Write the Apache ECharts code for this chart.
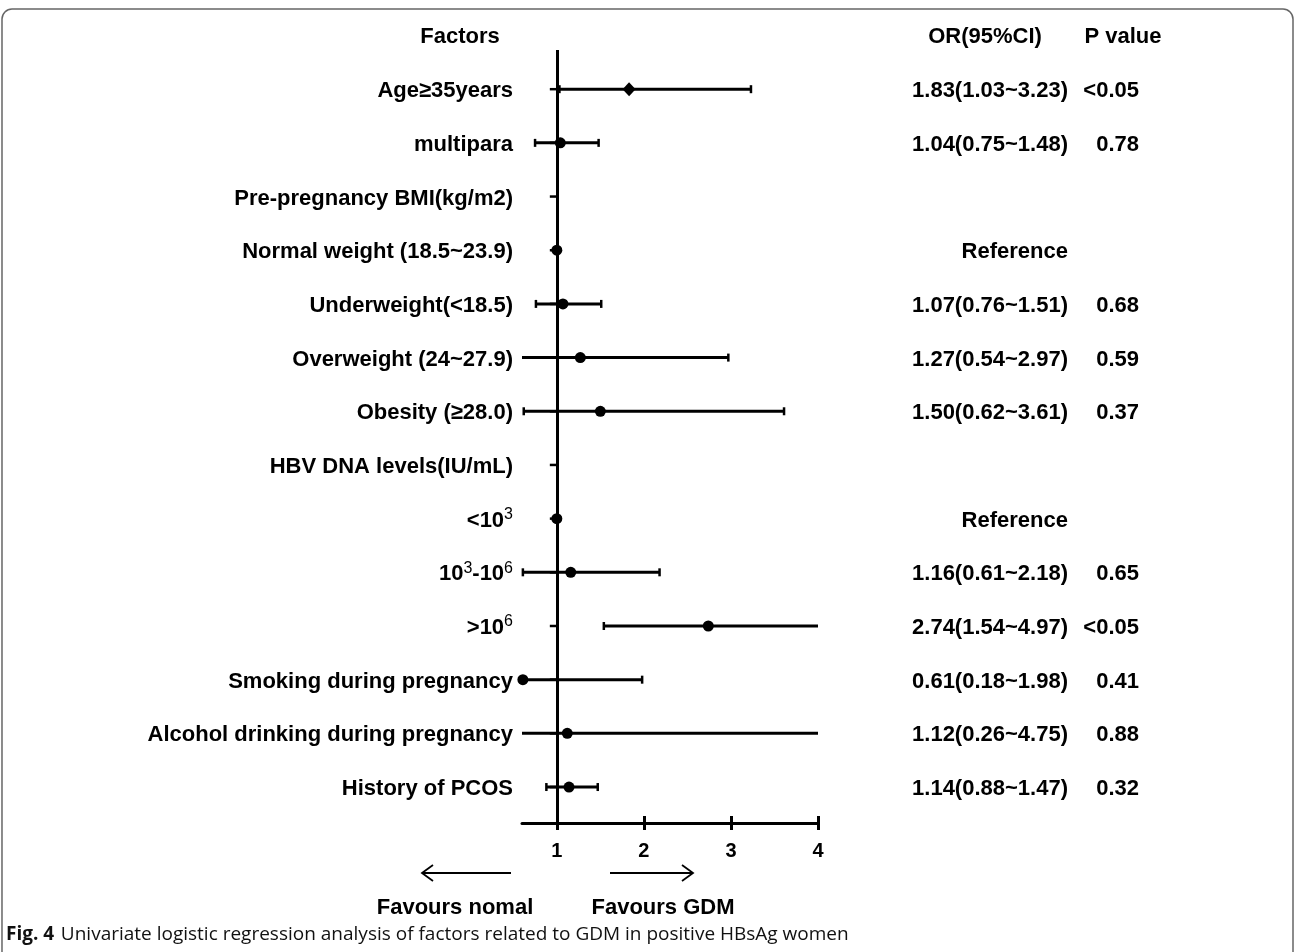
<!DOCTYPE html>
<html>
<head>
<meta charset="utf-8">
<title>Forest plot</title>
<script src="https://cdn.jsdelivr.net/npm/echarts@6/dist/echarts.min.js"></script>
<style>
  html, body { margin: 0; padding: 0; background: #fff; }
  #chart { width: 1295px; height: 952px; }
</style>
</head>
<body>
<div id="chart"></div>
<script>
// row labels ({s|..} = superscript)
const factors = [
  'Age≥35years',
  'multipara',
  'Pre-pregnancy BMI(kg/m2)',
  'Normal weight (18.5~23.9)',
  'Underweight(<18.5)',
  'Overweight (24~27.9)',
  'Obesity (≥28.0)',
  'HBV DNA levels(IU/mL)',
  '<10{s|3}',
  '10{s|3}-10{s|6}',
  '>10{s|6}',
  'Smoking during pregnancy',
  'Alcohol drinking during pregnancy',
  'History of PCOS'
]
// odds ratio and 95% CI (null = no estimate)
const oddsRatio = [1.83, 1.04, null, 1, 1.07, 1.27, 1.50, null, 1, 1.16, 2.74, 0.61, 1.12, 1.14]
const ciLower = [1.03, 0.75, null, null, 0.76, 0.54, 0.62, null, null, 0.61, 1.54, 0.18, 0.26, 0.88]
const ciUpper = [3.23, 1.48, null, null, 1.51, 2.97, 3.61, null, null, 2.18, 4.97, 1.98, 4.75, 1.47]
const pValues = ['<0.05', '0.78', '', '', '0.68', '0.59', '0.37', '', '', '0.65', '<0.05', '0.41', '0.88', '0.32']
const xTicks = [1, 2, 3, 4]
const diamondRows = ['Age≥35years']

const X_MIN = 0.6
const X_MAX = 4
const FONT = '"Liberation Sans", Arial, Helvetica, sans-serif'
const bold = size => 'bold ' + size + 'px ' + FONT

function orLabel (i) {
  if (oddsRatio[i] == null) return ''
  if (ciLower[i] == null) return 'Reference'
  return oddsRatio[i].toFixed(2) + '(' + ciLower[i].toFixed(2) + '~' + ciUpper[i].toFixed(2) + ')'
}

const richLabel = {
  n: { fontFamily: FONT, fontWeight: 'bold', fontSize: 22, lineHeight: 28, fill: '#000' },
  s: { fontFamily: FONT, fontWeight: 'normal', fontSize: 16, lineHeight: 28, verticalAlign: 'top', fill: '#000' }
}

function renderRow (params, api) {
  const i = params.dataIndex
  const row = i + 1
  const base = api.coord([1, row])
  const y = base[1]
  const kids = []
  // tick on the OR = 1 line
  kids.push({ type: 'line', shape: { x1: base[0] - 7, y1: y, x2: base[0], y2: y }, style: { stroke: '#000', lineWidth: 2.5 } })
  if (ciLower[i] != null) {
    const xl = api.coord([Math.max(ciLower[i], X_MIN), row])[0]
    const xh = api.coord([Math.min(ciUpper[i], X_MAX), row])[0]
    kids.push({ type: 'line', shape: { x1: xl, y1: y, x2: xh, y2: y }, style: { stroke: '#000', lineWidth: 3 } })
    if (ciLower[i] >= X_MIN) {
      kids.push({ type: 'line', shape: { x1: xl, y1: y - 4, x2: xl, y2: y + 4 }, style: { stroke: '#000', lineWidth: 2.5 } })
    }
    if (ciUpper[i] <= X_MAX) {
      kids.push({ type: 'line', shape: { x1: xh, y1: y - 4, x2: xh, y2: y + 4 }, style: { stroke: '#000', lineWidth: 2.5 } })
    }
  }
  if (oddsRatio[i] != null) {
    const p = api.coord([oddsRatio[i], row])
    if (diamondRows.indexOf(factors[i]) >= 0) {
      kids.push({ type: 'polygon', shape: { points: [[p[0], y - 7], [p[0] + 6.5, y], [p[0], y + 7], [p[0] - 6.5, y]] }, style: { fill: '#000' } })
    } else {
      kids.push({ type: 'circle', shape: { cx: p[0], cy: y, r: 5.5 }, style: { fill: '#000' } })
    }
  }
  // factor name, OR text, p value
  const left = api.coord([X_MIN, row])[0]
  kids.push({
    type: 'text',
    style: {
      text: '{n|' + factors[i].replace(/\{s\|(\d)\}/g, '}{s|$1}{n|') + '}',
      rich: richLabel,
      x: left - 9, y: y + 2, align: 'right', verticalAlign: 'middle'
    }
  })
  kids.push({ type: 'text', style: { text: orLabel(i), x: 1068, y: y + 2, align: 'right', verticalAlign: 'middle', font: bold(22), fill: '#000' } })
  kids.push({ type: 'text', style: { text: pValues[i], x: 1139, y: y + 2, align: 'right', verticalAlign: 'middle', font: bold(22), fill: '#000' } })
  return { type: 'group', children: kids }
}

const chart = echarts.init(document.getElementById('chart'))
chart.setOption({
  animation: false,
  backgroundColor: '#fff',
  grid: { left: 522, right: 477, top: 50, bottom: 129 },
  xAxis: [
    {
      type: 'value', min: X_MIN, max: X_MAX, position: 'bottom',
      axisLine: { show: true, lineStyle: { color: '#000', width: 3 } },
      axisTick: { show: true, customValues: xTicks, length: 7, lineStyle: { color: '#000', width: 3 } },
      axisLabel: { customValues: xTicks, color: '#000', fontFamily: FONT, fontWeight: 'bold', fontSize: 20, margin: 18 },
      splitLine: { show: false }
    },
    {
      type: 'value', min: X_MIN, max: X_MAX, position: 'bottom',
      axisLine: { show: false },
      axisTick: { show: true, inside: true, customValues: xTicks, length: 7, lineStyle: { color: '#000', width: 3 } },
      axisLabel: { show: false },
      splitLine: { show: false }
    }
  ],
  yAxis: { type: 'value', inverse: true, min: 0.27, max: 14.67, show: false },
  series: [{
    type: 'custom',
    renderItem: renderRow,
    data: factors.map((f, i) => [oddsRatio[i] == null ? 1 : oddsRatio[i], i + 1]),
    encode: { x: 0, y: 1 },
    z: 3,
    markLine: {
      silent: true,
      symbol: 'none',
      label: { show: false },
      lineStyle: { color: '#000', width: 3, type: 'solid' },
      data: [{ xAxis: 1 }]
    }
  }],
  graphic: [
    { type: 'rect', z: -1, shape: { x: 2, y: 9, width: 1291, height: 1000, r: 10 }, style: { fill: 'none', stroke: '#666', lineWidth: 1.5 } },
    { type: 'text', style: { text: 'Factors', x: 460, y: 37, align: 'center', verticalAlign: 'middle', textAlign: 'center', textVerticalAlign: 'middle', font: bold(22), fill: '#000' } },
    { type: 'text', style: { text: 'OR(95%CI)', x: 985, y: 37, align: 'center', verticalAlign: 'middle', textAlign: 'center', textVerticalAlign: 'middle', font: bold(22), fill: '#000' } },
    { type: 'text', style: { text: 'P value', x: 1123, y: 37, align: 'center', verticalAlign: 'middle', textAlign: 'center', textVerticalAlign: 'middle', font: bold(22), fill: '#000' } },
    // direction arrows
    { type: 'polyline', shape: { points: [[511, 873], [422, 873]] }, style: { stroke: '#000', lineWidth: 1.8, fill: 'none' } },
    { type: 'polyline', shape: { points: [[433, 865], [422, 873], [433, 881]] }, style: { stroke: '#000', lineWidth: 1.8, fill: 'none' } },
    { type: 'polyline', shape: { points: [[610, 873], [693, 873]] }, style: { stroke: '#000', lineWidth: 1.8, fill: 'none' } },
    { type: 'polyline', shape: { points: [[682, 865], [693, 873], [682, 881]] }, style: { stroke: '#000', lineWidth: 1.8, fill: 'none' } },
    { type: 'text', style: { text: 'Favours nomal', x: 455, y: 908, align: 'center', verticalAlign: 'middle', textAlign: 'center', textVerticalAlign: 'middle', font: bold(22), fill: '#000' } },
    { type: 'text', style: { text: 'Favours GDM', x: 663, y: 908, align: 'center', verticalAlign: 'middle', textAlign: 'center', textVerticalAlign: 'middle', font: bold(22), fill: '#000' } },
    {
      type: 'text',
      style: {
        text: '{b|Fig. 4}  {r|Univariate logistic regression analysis of factors related to GDM in positive HBsAg women}',
        x: 6, y: 935, align: 'left', verticalAlign: 'middle',
        rich: {
          b: { fontFamily: '"Open Sans", "Noto Sans", sans-serif', fontWeight: 'bold', fontSize: 19, fill: '#111' },
          r: { fontFamily: '"Open Sans", "Noto Sans", sans-serif', fontWeight: 'normal', fontSize: 19, fill: '#111' }
        }
      }
    }
  ]
})
</script>
</body>
</html>
